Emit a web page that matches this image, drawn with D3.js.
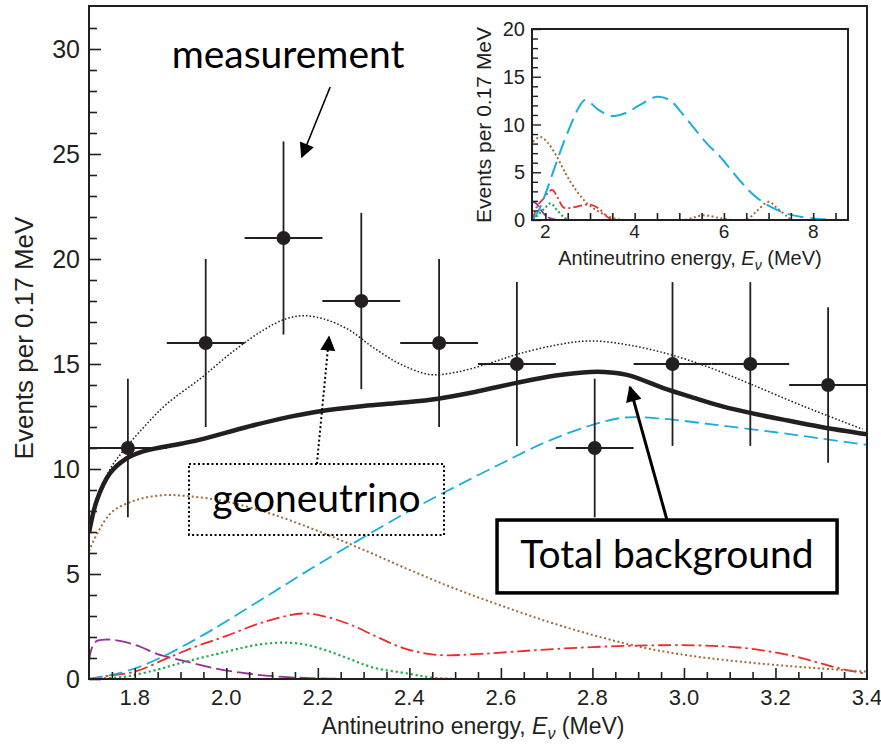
<!DOCTYPE html>
<html>
<head>
<meta charset="utf-8">
<title>Geoneutrino spectrum</title>
<script src="https://d3js.org/d3.v7.min.js"></script>
<style>
  body { margin: 0; background: #fff; }
  svg { font-family: "Liberation Sans", Arial, sans-serif; }
  .note { font-family: Lato, "Open Sans", sans-serif; fill: #000; }
</style>
</head>
<body>
<svg width="881" height="748"></svg>
<script>
// measured events, bins of 0.17 MeV
var binCenters = [1.785, 1.955, 2.125, 2.295, 2.465, 2.635, 2.805, 2.975, 3.145, 3.315];
var counts     = [11, 16, 21, 18, 16, 15, 11, 15, 15, 14];
var countErr   = [3.3, 4.0, 4.6, 4.2, 4.0, 3.9, 3.3, 3.9, 3.9, 3.7];
var binHalf = 0.085;

// main panel curves: [energy, events]
var totalBg = [[1.7,6.95],[1.717,8.5],[1.746,9.8],[1.782,10.5],[1.82,10.85],[1.9,11.2],[1.943,11.4],[2.045,12.0],[2.12,12.4],[2.205,12.75],[2.3,13.0],[2.38,13.15],[2.463,13.35],[2.55,13.7],[2.634,14.1],[2.72,14.45],[2.795,14.62],[2.84,14.6],[2.882,14.45],[2.955,13.85],[3.02,13.4],[3.086,12.97],[3.15,12.65],[3.217,12.35],[3.3,12.0],[3.4,11.65]];
var totalExpected = [[1.7,7.0],[1.72,8.6],[1.746,10.0],[1.78,11.0],[1.82,12.0],[1.87,13.1],[1.943,14.3],[2.015,15.6],[2.08,16.6],[2.13,17.15],[2.172,17.3],[2.22,17.1],[2.27,16.6],[2.32,15.8],[2.38,15.0],[2.445,14.5],[2.5,14.6],[2.57,15.0],[2.634,15.45],[2.72,15.9],[2.795,16.1],[2.88,15.9],[2.97,15.45],[3.06,14.8],[3.145,14.05],[3.26,13.0],[3.39,11.9]];
var reactor = [[1.7,0],[1.75,0.2],[1.8,0.5],[1.85,0.95],[1.9,1.5],[1.95,2.1],[2.0,2.75],[2.1,4.1],[2.2,5.45],[2.3,6.75],[2.4,8.0],[2.5,9.15],[2.6,10.25],[2.7,11.3],[2.8,12.1],[2.87,12.45],[2.95,12.4],[3.07,12.1],[3.2,11.75],[3.3,11.45],[3.4,11.15]];
var accidental = [[1.7,6.1],[1.72,7.0],[1.75,7.95],[1.8,8.5],[1.86,8.75],[1.92,8.7],[2.0,8.45],[2.1,7.85],[2.2,7.05],[2.3,6.15],[2.4,5.2],[2.5,4.3],[2.6,3.5],[2.7,2.75],[2.8,2.1],[2.9,1.55],[3.0,1.15],[3.1,0.88],[3.2,0.67],[3.3,0.5],[3.4,0.35]];
var alphaN = [[1.7,0],[1.725,0.1],[1.8,0.35],[1.877,1.05],[1.94,1.6],[2.0,2.05],[2.08,2.7],[2.168,3.12],[2.22,2.95],[2.27,2.6],[2.33,2.0],[2.39,1.45],[2.46,1.15],[2.56,1.2],[2.68,1.38],[2.8,1.52],[2.92,1.6],[3.03,1.6],[3.12,1.5],[3.23,1.14],[3.34,0.5],[3.4,0.24]];
var fastN = [[1.7,0],[1.775,0.1],[1.85,0.45],[1.9,0.76],[2.0,1.3],[2.06,1.6],[2.117,1.73],[2.17,1.65],[2.22,1.35],[2.27,0.95],[2.32,0.55],[2.4,0.25],[2.445,0.08],[2.5,0],[3.4,0]];
var lithium = [[1.7,0.8],[1.705,1.4],[1.716,1.8],[1.738,1.88],[1.77,1.8],[1.81,1.55],[1.848,1.2],[1.9,0.9],[1.972,0.52],[2.05,0.25],[2.117,0.11],[2.2,0.03],[2.3,0],[3.4,0]];

// inset curves, wider energy range
var insetReactor = [[1.73,0.1],[1.85,1.0],[2.0,2.7],[2.2,5.4],[2.4,8.0],[2.6,10.3],[2.75,11.8],[2.88,12.55],[3.0,12.3],[3.2,11.5],[3.5,10.9],[3.8,11.2],[4.1,12.0],[4.5,12.9],[4.8,12.5],[5.02,11.4],[5.3,9.8],[5.62,8.0],[5.9,6.7],[6.15,5.3],[6.4,3.9],[6.67,2.6],[7.0,1.5],[7.42,0.65],[8.0,0.15],[8.5,0]];
var insetAccidental = [[1.72,8.2],[1.89,8.7],[2.05,8.1],[2.26,6.6],[2.45,4.9],[2.63,3.5],[2.93,1.75],[3.15,1.0],[3.38,0.45],[3.6,0.1],[3.8,0],[5.1,0],[5.55,0.5],[5.9,0.2],[6.2,0],[6.5,0],[6.75,1.0],[7.0,1.9],[7.2,1.2],[7.42,0.35],[7.5,0]];
var insetAlphaN = [[1.72,0],[1.81,1.4],[1.95,2.2],[2.15,3.15],[2.28,2.3],[2.41,1.3],[2.6,1.3],[2.8,1.5],[3.0,1.6],[3.2,1.2],[3.38,0.35],[3.5,0]];
var insetFastN = [[1.72,0],[1.85,0.6],[2.0,1.3],[2.12,1.75],[2.25,1.1],[2.41,0.3],[2.5,0]];
var insetLithium = [[1.72,1.9],[1.8,1.7],[1.89,1.1],[2.0,0.5],[2.1,0.2],[2.3,0]];

var mainYTicks = [0, 5, 10, 15, 20, 25, 30];
var mainXTicks = [1.8, 2.0, 2.2, 2.4, 2.6, 2.8, 3.0, 3.2, 3.4];
var insetYTicks = [0, 5, 10, 15, 20];
var insetXTicks = [2, 4, 6, 8];

var svg = d3.select("svg");

var x = d3.scaleLinear().domain([1.7, 3.4]).range([89, 867]);
var y = d3.scaleLinear().domain([0, 32]).range([679, 7]);

var styles = {
  reactor:    {stroke: "#1aaedc", width: 1.8, dash: "14,6"},
  accidental: {stroke: "#a36b38", width: 2,   dash: "2,2.6"},
  alphaN:     {stroke: "#ec2a2a", width: 1.8, dash: "13,4,2.5,4"},
  fastN:      {stroke: "#20ad4c", width: 2.2, dash: "2.2,2.8"},
  lithium:    {stroke: "#9a2e95", width: 1.8, dash: "16,5"}
};

function drawCurve(g, data, xs, ys, st, curve) {
  var line = d3.line()
      .x(function(d) { return xs(d[0]); })
      .y(function(d) { return ys(d[1]); })
      .curve(curve || d3.curveCatmullRom.alpha(0.5));
  return g.append("path")
      .datum(data)
      .attr("fill", "none")
      .attr("stroke", st.stroke)
      .attr("stroke-width", st.width)
      .attr("stroke-dasharray", st.dash)
      .attr("d", line);
}

// ---------- main panel ----------
var main = svg.append("g");
main.append("defs").html(
  '<clipPath id="mainclip"><rect x="89" y="7" width="778" height="673"></rect></clipPath>' +
  '<marker id="headS" viewBox="0 0 10 10" refX="9" refY="5" markerWidth="16" markerHeight="15" markerUnits="userSpaceOnUse" orient="auto"><path d="M0,0L10,5L0,10z" fill="#000"/></marker>' +
  '<marker id="headL" viewBox="0 0 10 10" refX="9" refY="5" markerWidth="20" markerHeight="16" markerUnits="userSpaceOnUse" orient="auto"><path d="M0,0L10,5L0,10z" fill="#000"/></marker>');

var plot = main.append("g").attr("clip-path", "url(#mainclip)");

drawCurve(plot, lithium, x, y, styles.lithium);
drawCurve(plot, fastN, x, y, styles.fastN);
drawCurve(plot, alphaN, x, y, styles.alphaN);
drawCurve(plot, accidental, x, y, styles.accidental);
drawCurve(plot, reactor, x, y, styles.reactor);
drawCurve(plot, totalExpected, x, y, {stroke: "#222", width: 1.5, dash: "1.6,2"});
drawCurve(plot, totalBg, x, y, {stroke: "#231f20", width: 4.5, dash: null});

// data points with error bars
var pts = plot.selectAll(".pt")
  .data(binCenters.map(function(c, i) { return {e: c, n: counts[i], err: countErr[i]}; }))
  .enter().append("g").attr("class", "pt");
pts.append("line")
    .attr("x1", function(d) { return x(d.e - binHalf); })
    .attr("x2", function(d) { return x(d.e + binHalf); })
    .attr("y1", function(d) { return y(d.n); })
    .attr("y2", function(d) { return y(d.n); })
    .attr("stroke", "#231f20").attr("stroke-width", 1.8);
pts.append("line")
    .attr("x1", function(d) { return x(d.e); })
    .attr("x2", function(d) { return x(d.e); })
    .attr("y1", function(d) { return y(d.n + d.err); })
    .attr("y2", function(d) { return y(d.n - d.err); })
    .attr("stroke", "#231f20").attr("stroke-width", 1.8);
pts.append("circle")
    .attr("cx", function(d) { return x(d.e); })
    .attr("cy", function(d) { return y(d.n); })
    .attr("r", 7)
    .attr("fill", "#231f20");

// axes: ticks pointing inward
var yAxis = d3.axisRight(y).tickValues(d3.range(0, 32, 1)).tickFormat("")
    .tickSize(8).tickSizeOuter(0);
main.append("g").attr("transform", "translate(89,0)").call(yAxis)
  .call(function(g) {
    g.select(".domain").remove();
    g.selectAll(".tick line").attr("stroke", "#231f20").attr("stroke-width", 1.6)
      .attr("x2", function(d) { return d % 5 === 0 ? 12 : 8; });
  });
var xAxis = d3.axisTop(x).tickValues(d3.range(1.75, 3.4, 0.05)).tickFormat("")
    .tickSize(7).tickSizeOuter(0);
main.append("g").attr("transform", "translate(0,679)").call(xAxis)
  .call(function(g) {
    g.select(".domain").remove();
    g.selectAll(".tick line").attr("stroke", "#231f20").attr("stroke-width", 1.6)
      .attr("y2", function(d) { return Math.abs(Math.round(d * 20) % 4) === 0 ? -11 : -7; });
  });

main.selectAll(".ylab").data(mainYTicks).enter().append("text")
    .attr("x", 80).attr("y", function(d) { return y(d); })
    .attr("dy", "0.36em").attr("text-anchor", "end")
    .attr("font-size", 25).attr("fill", "#231f20")
    .text(function(d) { return d; });
main.selectAll(".xlab").data(mainXTicks).enter().append("text")
    .attr("x", function(d) { return x(d); }).attr("y", 705)
    .attr("text-anchor", "middle")
    .attr("font-size", 22).attr("fill", "#231f20")
    .text(function(d) { return d.toFixed(1); });

main.append("rect").attr("x", 89).attr("y", 6).attr("width", 778).attr("height", 673)
    .attr("fill", "none").attr("stroke", "#231f20").attr("stroke-width", 2);

var xt = main.append("text").attr("x", 473).attr("y", 734).attr("text-anchor", "middle")
    .attr("font-size", 23).attr("fill", "#231f20");
xt.append("tspan").text("Antineutrino energy, ");
xt.append("tspan").attr("font-style", "italic").text("E");
xt.append("tspan").attr("font-style", "italic").attr("font-size", 16).attr("dy", 5).text("ν");
xt.append("tspan").attr("dy", -5).text(" (MeV)");

main.append("text").attr("transform", "translate(33,338) rotate(-90)")
    .attr("text-anchor", "middle").attr("font-size", 26).attr("fill", "#231f20")
    .text("Events per 0.17 MeV");

// ---------- annotations ----------
var ann = svg.append("g");
ann.append("text").attr("class", "note").attr("x", x(2.135)).attr("y", y(29.1))
    .attr("text-anchor", "middle").attr("font-size", 39).text("measurement");
ann.append("line").attr("x1", x(2.227)).attr("y1", y(28.19)).attr("x2", x(2.165)).attr("y2", y(24.86))
    .attr("stroke", "#000").attr("stroke-width", 1.6).attr("marker-end", "url(#headS)");

ann.append("rect").attr("x", x(1.9185)).attr("y", y(10.24))
    .attr("width", x(2.4758) - x(1.9185)).attr("height", y(6.86) - y(10.24))
    .attr("fill", "none").attr("stroke", "#000").attr("stroke-width", 2).attr("stroke-dasharray", "2,2.5");
ann.append("text").attr("class", "note").attr("x", x(2.197)).attr("y", y(7.95))
    .attr("text-anchor", "middle").attr("font-size", 39).text("geoneutrino");
ann.append("line").attr("x1", x(2.198)).attr("y1", y(10.24)).attr("x2", x(2.2245)).attr("y2", y(16.29))
    .attr("stroke", "#000").attr("stroke-width", 2).attr("stroke-dasharray", "2,2.5").attr("marker-end", "url(#headS)");

ann.append("rect").attr("x", x(2.5916)).attr("y", y(7.57))
    .attr("width", x(3.3346) - x(2.5916)).attr("height", y(4.1) - y(7.57))
    .attr("fill", "#fff").attr("stroke", "#000").attr("stroke-width", 3.5);
ann.append("text").attr("class", "note").attr("x", x(2.963)).attr("y", y(5.29))
    .attr("text-anchor", "middle").attr("font-size", 39).text("Total background");
ann.append("line").attr("x1", x(2.963)).attr("y1", y(7.57)).attr("x2", x(2.882)).attr("y2", y(13.9))
    .attr("stroke", "#000").attr("stroke-width", 3).attr("marker-end", "url(#headL)");

// ---------- inset ----------
var ix = d3.scaleLinear().domain([1.7, 8.78]).range([532, 848]);
var iy = d3.scaleLinear().domain([0, 20]).range([220, 29]);
var inset = svg.append("g");
inset.append("defs").html('<clipPath id="insetclip"><rect x="532" y="29" width="316" height="191"></rect></clipPath>');
var iplot = inset.append("g").attr("clip-path", "url(#insetclip)");

drawCurve(iplot, insetLithium, ix, iy, {stroke: styles.lithium.stroke, width: 1.8, dash: "8,3"});
drawCurve(iplot, insetFastN, ix, iy, {stroke: styles.fastN.stroke, width: 2.2, dash: "2,2.5"});
drawCurve(iplot, insetAlphaN, ix, iy, {stroke: styles.alphaN.stroke, width: 1.8, dash: "9,3,2,3"});
drawCurve(iplot, insetAccidental, ix, iy, {stroke: styles.accidental.stroke, width: 2, dash: "2,2.5"});
drawCurve(iplot, insetReactor, ix, iy, {stroke: styles.reactor.stroke, width: 2, dash: "16,7"});

inset.append("g").attr("transform", "translate(532,0)")
  .call(d3.axisRight(iy).tickValues(d3.range(0, 21, 1)).tickFormat("").tickSize(5).tickSizeOuter(0))
  .call(function(g) {
    g.select(".domain").remove();
    g.selectAll(".tick line").attr("stroke", "#231f20").attr("stroke-width", 1.4)
      .attr("x2", function(d) { return d % 5 === 0 ? 9 : 6; });
  });
inset.append("g").attr("transform", "translate(0,220)")
  .call(d3.axisTop(ix).tickValues(d3.range(2, 8.8, 0.5)).tickFormat("").tickSize(7).tickSizeOuter(0))
  .call(function(g) {
    g.select(".domain").remove();
    g.selectAll(".tick line").attr("stroke", "#231f20").attr("stroke-width", 1.6);
  });
inset.append("rect").attr("x", 532).attr("y", 29).attr("width", 316).attr("height", 191)
    .attr("fill", "none").attr("stroke", "#231f20").attr("stroke-width", 2);

inset.selectAll(".iylab").data(insetYTicks).enter().append("text")
    .attr("x", 525).attr("y", function(d) { return iy(d); })
    .attr("dy", "0.36em").attr("text-anchor", "end")
    .attr("font-size", 20).attr("fill", "#231f20")
    .text(function(d) { return d; });
inset.selectAll(".ixlab").data(insetXTicks).enter().append("text")
    .attr("x", function(d) { return ix(d); }).attr("y", 238)
    .attr("text-anchor", "middle")
    .attr("font-size", 19).attr("fill", "#231f20")
    .text(function(d) { return d; });

var ixt = inset.append("text").attr("x", 690).attr("y", 265).attr("text-anchor", "middle")
    .attr("font-size", 20).attr("fill", "#231f20");
ixt.append("tspan").text("Antineutrino energy, ");
ixt.append("tspan").attr("font-style", "italic").text("E");
ixt.append("tspan").attr("font-style", "italic").attr("font-size", 14).attr("dy", 5).text("ν");
ixt.append("tspan").attr("dy", -5).text(" (MeV)");

inset.append("text").attr("transform", "translate(491,125) rotate(-90)")
    .attr("text-anchor", "middle").attr("font-size", 21).attr("fill", "#231f20")
    .text("Events per 0.17 MeV");
</script>
</body>
</html>
